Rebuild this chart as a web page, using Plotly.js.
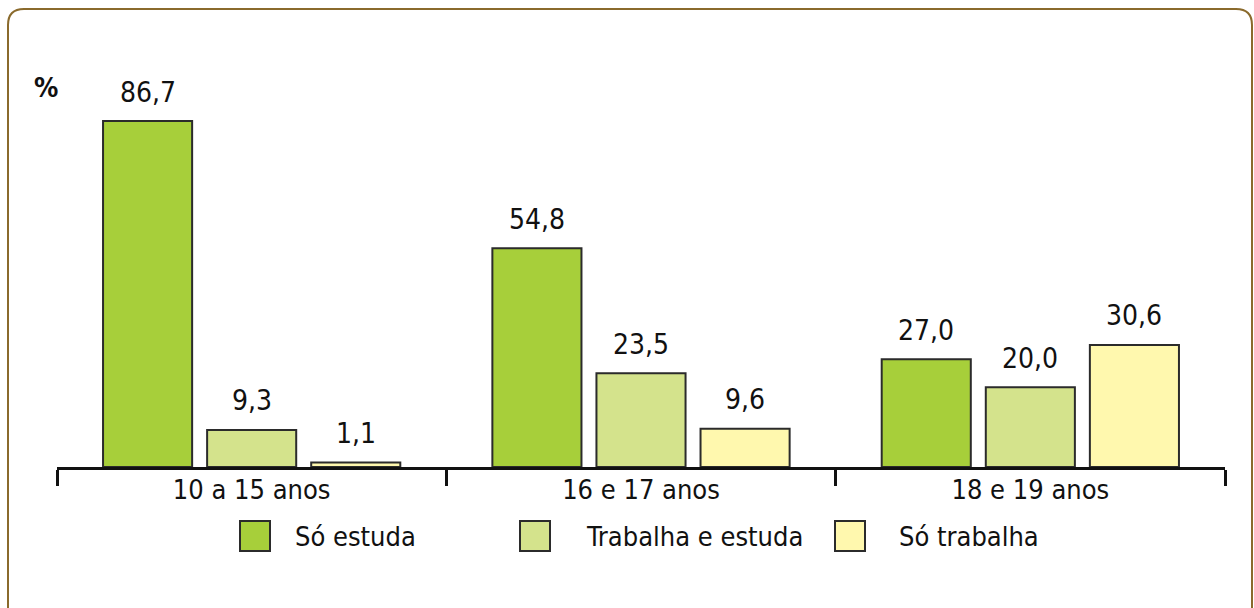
<!DOCTYPE html>
<html>
<head>
<meta charset="utf-8">
<script src="https://cdn.plot.ly/plotly-3.0.1.min.js"></script>
<style>
html,body{margin:0;padding:0;background:#fff;}
#chart{width:1254px;height:608px;}
text, tspan{font-stretch:condensed !important;}
</style>
</head>
<body>
<div id="chart"></div>
<script>
var categories = ["10 a 15 anos", "16 e 17 anos", "18 e 19 anos"];
var seriesNames = ["Só estuda", "Trabalha e estuda", "Só trabalha"];
var soEstuda = [86.7, 54.8, 27.0];
var trabalhaEEstuda = [9.3, 23.5, 20.0];
var soTrabalha = [1.1, 9.6, 30.6];
var seriesColors = ["#a7cf3a", "#d4e38c", "#fff8ae"];
var unitLabel = "%";

var FONT = "'DejaVu Sans', sans-serif";
var seriesValues = [soEstuda, trabalhaEEstuda, soTrabalha];

var traces = seriesValues.map(function (vals, i) {
  return {
    type: "bar",
    name: seriesNames[i],
    x: categories,
    y: vals,
    marker: {color: seriesColors[i], line: {color: "#2b2b2b", width: 2}},
    hoverinfo: "skip",
    showlegend: false
  };
});

var slot = 104;
var annotations = [];
seriesValues.forEach(function (vals, i) {
  vals.forEach(function (v, j) {
    annotations.push({
      x: categories[j], y: v, xref: "x", yref: "y",
      text: v.toFixed(1).replace(".", ","),
      showarrow: false, xanchor: "center", yanchor: "middle",
      xshift: (i - 1) * slot, yshift: 29,
      font: {family: FONT, size: 28, color: "#111"}
    });
  });
});

// "%" unit label
annotations.push({
  x: -0.0094, y: 0.95, xref: "paper", yref: "paper",
  text: "<b>" + unitLabel + "</b>", showarrow: false,
  xanchor: "center", yanchor: "middle",
  font: {family: FONT, size: 27, color: "#111"}
});

// legend (custom, large swatches)
var legendX = [240, 520, 835];
var legendTextX = [293, 584, 897];
var shapes = [];
var plotL = 57, plotW = 1168;
seriesNames.forEach(function (n, i) {
  var ax = (legendX[i] - plotL) / plotW;
  shapes.push({
    type: "rect", xref: "paper", yref: "paper",
    xsizemode: "pixel", ysizemode: "pixel",
    xanchor: ax, yanchor: 0,
    x0: 0, x1: 30, y0: -54, y1: -84,
    fillcolor: seriesColors[i], line: {color: "#2b2b2b", width: 2}
  });
  annotations.push({
    x: (legendTextX[i] - plotL) / plotW, y: 0, xref: "paper", yref: "paper",
    yshift: -69, text: n, showarrow: false, xanchor: "left", yanchor: "middle",
    font: {family: FONT, size: 27, color: "#111"}
  });
});

// rounded frame
var L = -49, R = 1195, T = 458, B = -160, r = 16;
shapes.push({
  type: "path", xref: "paper", yref: "paper",
  xsizemode: "pixel", ysizemode: "pixel", xanchor: 0, yanchor: 0,
  path: "M " + (L + r) + "," + T + " L " + (R - r) + "," + T +
        " Q " + R + "," + T + " " + R + "," + (T - r) +
        " L " + R + "," + B + " L " + L + "," + B +
        " L " + L + "," + (T - r) + " Q " + L + "," + T + " " + (L + r) + "," + T + " Z",
  line: {color: "#8a6a2c", width: 2}, fillcolor: "rgba(0,0,0,0)", layer: "below"
});

var layout = {
  width: 1254, height: 608,
  margin: {l: 57, r: 29, t: 68, b: 141},
  paper_bgcolor: "#fff", plot_bgcolor: "#fff",
  barmode: "group", bargap: 0.198, bargroupgap: 0.144,
  showlegend: false,
  xaxis: {
    type: "category", showline: true, linewidth: 3, linecolor: "#111",
    ticks: "outside", tickson: "boundaries", ticklen: 16, tickwidth: 3, tickcolor: "#111",
    ticklabelstandoff: -3,
    tickfont: {family: FONT, size: 27, color: "#111"},
    showgrid: false, zeroline: false, fixedrange: true
  },
  yaxis: {
    range: [0, 100], visible: false, showgrid: false, zeroline: false, fixedrange: true
  },
  annotations: annotations,
  shapes: shapes
};

Plotly.newPlot("chart", traces, layout, {staticPlot: true, displayModeBar: false});
</script>
</body>
</html>
